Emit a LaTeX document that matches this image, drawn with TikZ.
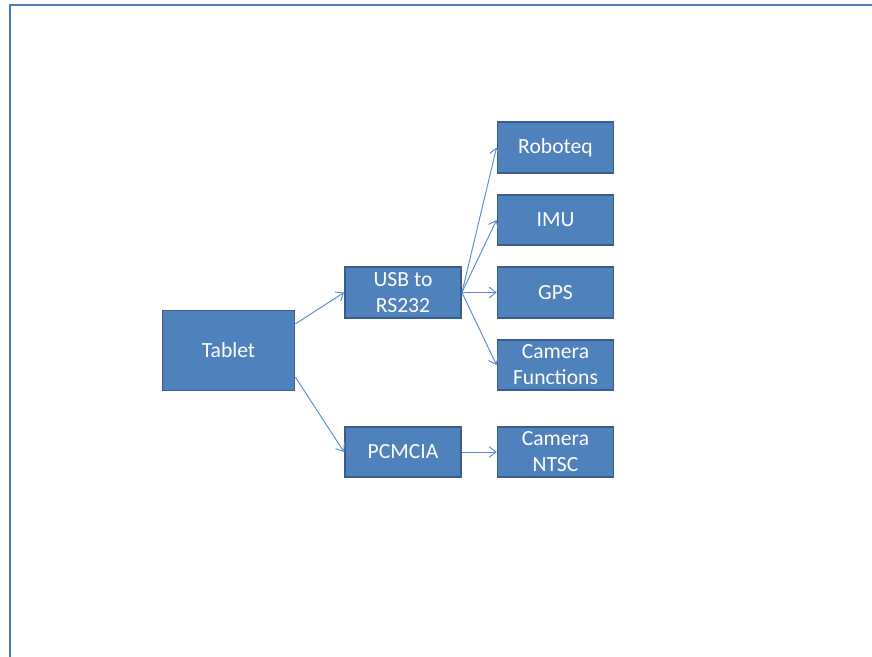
\documentclass[tikz,border=0pt]{standalone}
\usepackage{fontspec}
\setmainfont{Carlito}
\usetikzlibrary{arrows.meta}
\definecolor{boxfill}{HTML}{4F81BD}
\definecolor{boxline}{HTML}{385D8A}
\definecolor{linkcol}{HTML}{5B8BC9}
\definecolor{framecol}{HTML}{4A7EBB}
\begin{document}
\begin{tikzpicture}[x=0.75pt, y=-0.75pt,
        unit/.style = {draw=boxline, line width=1.4pt, fill=boxfill, text=white,
                align=center, inner sep=0pt, minimum width=87pt, minimum height=38pt,
                font=\fontsize{16.2}{19.5}\selectfont},
        link/.style = {draw=linkcol, line width=0.7pt, -{Straight Barb[length=5pt,width=8pt]}}]
        \useasboundingbox (0,0) rectangle (872,657);
        \draw[framecol, line width=2pt] (10,657) -- (10,5) -- (872,5); % page frame

        \node[unit, minimum width=99pt, minimum height=60pt] (tablet) at (228.5,350.5) {Tablet};
        \node[unit] (usb) at (403,292.5) {USB to\\RS232};
        \node[unit] (pcmcia) at (403,452) {PCMCIA};
        \node[unit] (roboteq) at (555.5,147.5) {Roboteq};
        \node[unit] (imu) at (555.5,220) {IMU};
        \node[unit] (gps) at (555.5,292.5) {GPS};
        \node[unit] (camfunc) at (555.5,365) {Camera\\Functions};
        \node[unit] (camntsc) at (555.5,452) {Camera\\NTSC};

        \draw[link] ([yshift=20pt]tablet.east) -- (usb.west);
        \draw[link] ([yshift=-20pt]tablet.east) -- (pcmcia.west);
        \draw[link] (usb.east) -- (roboteq.west);
        \draw[link] (usb.east) -- (imu.west);
        \draw[link] (usb.east) -- (gps.west);
        \draw[link] (usb.east) -- (camfunc.west);
        \draw[link] (pcmcia.east) -- (camntsc.west);
\end{tikzpicture}
\end{document}
